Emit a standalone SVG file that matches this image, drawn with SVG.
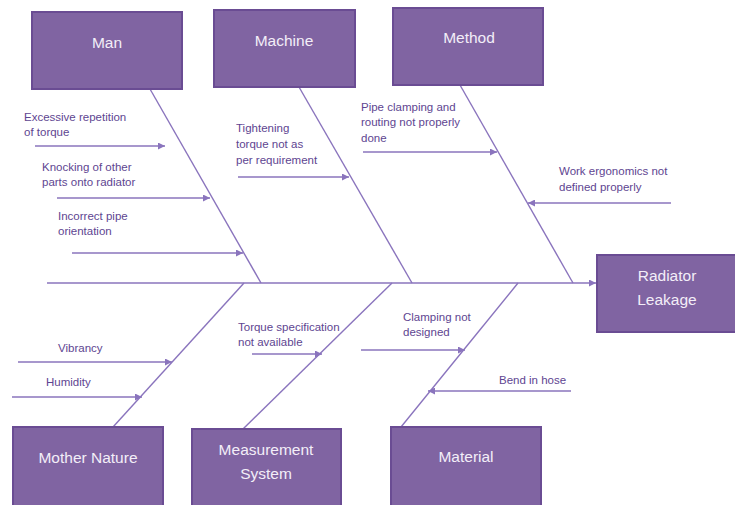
<svg xmlns="http://www.w3.org/2000/svg" width="735" height="505" viewBox="0 0 735 505">
<defs>
<marker id="ah" viewBox="0 0 10 10" refX="10" refY="5" markerWidth="8" markerHeight="7" markerUnits="userSpaceOnUse" orient="auto">
<path d="M0,0 L10,5 L0,10 z" fill="#8a74bd"/>
</marker>
</defs>
<style>
.box{fill:#8064a2;stroke:#6a4c93;stroke-width:2}
.bt{font-family:"Liberation Sans",Arial,sans-serif;font-size:15.5px;fill:#f3eef8;text-anchor:middle}
.lb{font-family:"Liberation Sans",Arial,sans-serif;font-size:11.5px;fill:#5e4591}
.bone{stroke:#8a74bd;stroke-width:1.4;fill:none}
.arr{stroke:#8a74bd;stroke-width:1.4;fill:none;marker-end:url(#ah)}
</style>
<rect width="735" height="505" fill="#ffffff"/>
<g id="connectors">
<line class="arr" x1="47" y1="283" x2="596" y2="283"/>
<line class="bone" x1="150" y1="89" x2="261" y2="283"/>
<line class="bone" x1="299" y1="87" x2="412" y2="283"/>
<line class="bone" x1="460" y1="85" x2="573" y2="283"/>
<line class="bone" x1="244" y1="283" x2="113" y2="427"/>
<line class="bone" x1="392" y1="283" x2="243" y2="429"/>
<line class="bone" x1="518" y1="283" x2="401" y2="427"/>
<line class="arr" x1="35" y1="146" x2="165" y2="146"/>
<line class="arr" x1="57" y1="198" x2="210" y2="198"/>
<line class="arr" x1="72" y1="253" x2="243" y2="253"/>
<line class="arr" x1="238" y1="177" x2="349" y2="177"/>
<line class="arr" x1="363" y1="152" x2="497" y2="152"/>
<line class="arr" x1="671" y1="203" x2="528" y2="203"/>
<line class="arr" x1="18" y1="362" x2="172" y2="362"/>
<line class="arr" x1="12" y1="397" x2="142" y2="397"/>
<line class="arr" x1="252" y1="354" x2="322" y2="354"/>
<line class="arr" x1="361" y1="350" x2="465" y2="350"/>
<line class="arr" x1="571" y1="391" x2="428" y2="391"/>
</g>
<g id="man"><rect class="box" x="32" y="12" width="150" height="77"/><text class="bt" x="107" y="48">Man</text></g>
<g id="machine"><rect class="box" x="214" y="10" width="141" height="77"/><text class="bt" x="284" y="46">Machine</text></g>
<g id="method"><rect class="box" x="393" y="8" width="150" height="77"/><text class="bt" x="469" y="43">Method</text></g>
<g id="radiator"><rect class="box" x="597" y="255" width="140" height="77"/><text class="bt" x="667" y="281">Radiator</text><text class="bt" x="667" y="305">Leakage</text></g>
<g id="mother-nature"><rect class="box" x="13" y="427" width="150" height="80"/><text class="bt" x="88" y="463">Mother Nature</text></g>
<g id="measurement"><rect class="box" x="192" y="429" width="149" height="78"/><text class="bt" x="266" y="455">Measurement</text><text class="bt" x="266" y="479">System</text></g>
<g id="material"><rect class="box" x="391" y="427" width="150" height="80"/><text class="bt" x="466" y="462">Material</text></g>
<g id="labels">
<text class="lb" x="24" y="121">Excessive repetition</text>
<text class="lb" x="24" y="136">of torque</text>
<text class="lb" x="42" y="171">Knocking of other</text>
<text class="lb" x="42" y="186">parts onto radiator</text>
<text class="lb" x="58" y="220">Incorrect pipe</text>
<text class="lb" x="58" y="235">orientation</text>
<text class="lb" x="236" y="132">Tightening</text>
<text class="lb" x="236" y="148">torque not as</text>
<text class="lb" x="236" y="164">per requirement</text>
<text class="lb" x="361" y="111">Pipe clamping and</text>
<text class="lb" x="361" y="126">routing not properly</text>
<text class="lb" x="361" y="142">done</text>
<text class="lb" x="559" y="175">Work ergonomics not</text>
<text class="lb" x="559" y="191">defined properly</text>
<text class="lb" x="58" y="352">Vibrancy</text>
<text class="lb" x="46" y="386">Humidity</text>
<text class="lb" x="238" y="331">Torque specification</text>
<text class="lb" x="238" y="346">not available</text>
<text class="lb" x="403" y="321">Clamping not</text>
<text class="lb" x="403" y="336">designed</text>
<text class="lb" x="499" y="384">Bend in hose</text>
</g>
</svg>
